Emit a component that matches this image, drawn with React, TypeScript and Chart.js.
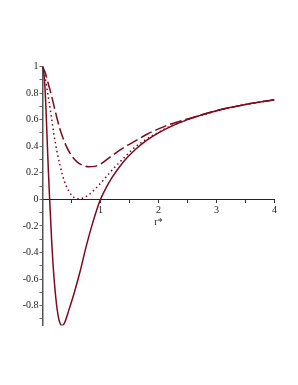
import { useEffect, useRef } from "react";
import { Chart, registerables } from "chart.js";

Chart.register(...registerables);

// solid curve
const solidR = [0, 0.02, 0.04, 0.06, 0.08, 0.1, 0.12, 0.14, 0.16, 0.18, 0.2, 0.22, 0.25, 0.28, 0.31, 0.34, 0.38, 0.45, 0.55, 0.65, 0.75, 0.85, 0.95, 1.0, 1.1, 1.2, 1.4, 1.6, 1.8, 2.0, 2.2, 2.5, 3.0, 3.5, 4.0];
const solidV = [1, 0.96, 0.86, 0.68, 0.45, 0.23, 0.03, -0.15, -0.33, -0.48, -0.6, -0.7, -0.82, -0.9, -0.94, -0.95, -0.93, -0.84, -0.7, -0.54, -0.36, -0.2, -0.06, 0.0, 0.09, 0.165, 0.285, 0.375, 0.445, 0.5, 0.545, 0.6, 0.667, 0.714, 0.75];

// dotted curve
const dottedR = [0, 0.04, 0.1, 0.15, 0.2, 0.25, 0.3, 0.35, 0.4, 0.45, 0.5, 0.55, 0.6, 0.65, 0.7, 0.8, 0.9, 1.0, 1.2, 1.4, 1.6, 1.8, 2.0, 2.2, 2.5, 3.0, 3.5, 4.0];
const dottedV = [1, 0.93, 0.77, 0.63, 0.48, 0.36, 0.26, 0.175, 0.11, 0.065, 0.032, 0.012, 0.004, 0.004, 0.01, 0.035, 0.075, 0.12, 0.22, 0.31, 0.395, 0.455, 0.505, 0.55, 0.6, 0.665, 0.714, 0.75];

// dashed curve
const dashedR = [0, 0.05, 0.1, 0.15, 0.2, 0.25, 0.3, 0.4, 0.5, 0.6, 0.7, 0.8, 0.9, 1.0, 1.2, 1.4, 1.6, 1.8, 2.0, 2.2, 2.5, 3.0, 3.5, 4.0];
const dashedV = [1, 0.95, 0.87, 0.79, 0.7, 0.61, 0.53, 0.41, 0.33, 0.28, 0.255, 0.245, 0.248, 0.265, 0.33, 0.39, 0.44, 0.49, 0.53, 0.565, 0.605, 0.667, 0.714, 0.75];

const xTickValues = [0.5, 1, 1.5, 2, 2.5, 3, 3.5, 4];
const xTickLabels = ["", "1", "", "2", "", "3", "", "4"];
const yTickValues = [-0.9, -0.8, -0.7, -0.6, -0.5, -0.4, -0.3, -0.2, -0.1, 0, 0.1, 0.2, 0.3, 0.4, 0.5, 0.6, 0.7, 0.8, 0.9, 1.0];
const yTickLabels = ["", "-0.8", "", "-0.6", "", "-0.4", "", "-0.2", "", "0", "", "0.2", "", "0.4", "", "0.6", "", "0.8", "", "1"];
const xTitle = "r*";

const LINE = "#7d0a1e";
const TEXT = "#222";
const FONT = "'Liberation Serif', 'DejaVu Serif', serif";

const toPts = (r: number[], v: number[]) => r.map((x, i) => ({ x, y: v[i] }));

export default function App() {
  const ref = useRef<HTMLCanvasElement | null>(null);
  useEffect(() => {
    if (!ref.current) return;
    const chart = new Chart(ref.current, {
      type: "line",
      data: {
        datasets: [
          {
            data: toPts(solidR, solidV),
            borderColor: LINE,
            borderWidth: 1.5,
            pointRadius: 0,
            cubicInterpolationMode: "monotone",
          },
          {
            data: toPts(dottedR, dottedV),
            borderColor: LINE,
            borderWidth: 1.5,
            borderDash: [1.5, 3],
            pointRadius: 0,
            cubicInterpolationMode: "monotone",
          },
          {
            data: toPts(dashedR, dashedV),
            borderColor: LINE,
            borderWidth: 1.5,
            borderDash: [12, 4],
            pointRadius: 0,
            cubicInterpolationMode: "monotone",
          },
        ],
      },
      options: {
        responsive: false,
        animation: false,
        layout: { padding: { left: 0, top: 66.5, right: 23.5, bottom: 59.5 } },
        plugins: { legend: { display: false }, tooltip: { enabled: false } },
        scales: {
          x: {
            type: "linear",
            min: 0,
            max: 4,
            position: { y: 0 } as any,
            afterBuildTicks: (scale: any) => {
              scale.ticks = xTickValues.map((v) => ({ value: v }));
            },
            ticks: {
              autoSkip: false,
              maxRotation: 0,
              padding: 2,
              color: TEXT,
              font: { family: FONT, size: 10 },
              callback: (_v: any, i: number) => xTickLabels[i],
            },
            grid: { drawOnChartArea: false, drawTicks: true, tickLength: 3, color: "#333" },
            border: { display: true, color: "#222", width: 1 },
            title: {
              display: true,
              text: xTitle,
              color: TEXT,
              font: { family: FONT, size: 10 },
              padding: { top: -2, bottom: 0 },
            },
          },
          y: {
            type: "linear",
            min: -0.95,
            max: 1,
            position: "left",
            afterBuildTicks: (scale: any) => {
              scale.ticks = yTickValues.map((v) => ({ value: v }));
            },
            afterFit: (scale: any) => {
              scale.width = 42.5;
            },
            ticks: {
              autoSkip: false,
              padding: 1,
              color: TEXT,
              font: { family: FONT, size: 10 },
              callback: (_v: any, i: number) => yTickLabels[i],
            },
            grid: { drawOnChartArea: false, drawTicks: true, tickLength: 3, color: "#666" },
            border: { display: true, color: "#555", width: 1.5 },
          },
        },
      },
    });
    return () => chart.destroy();
  }, []);
  return (
    <div style={{ position: "absolute", left: 0, top: 0, width: 298, height: 385, background: "#fff" }}>
      <canvas ref={ref} width={298} height={385} style={{ display: "block", width: 298, height: 385 }} />
    </div>
  );
}
